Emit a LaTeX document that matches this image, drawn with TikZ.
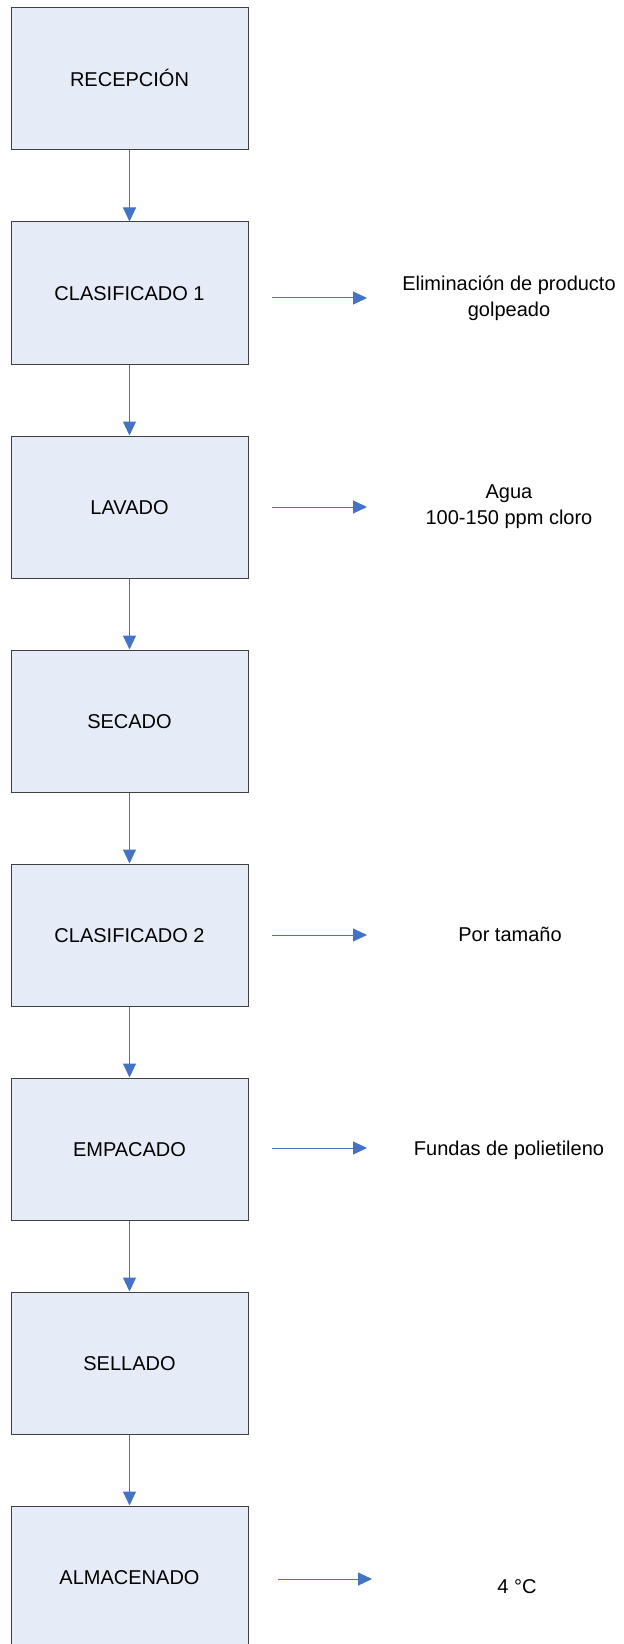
\documentclass[tikz,border=0pt]{standalone}
\usepackage{fontspec}
\setmainfont{Liberation Sans}
\usetikzlibrary{positioning,arrows.meta}
\definecolor{cajafondo}{RGB}{230,236,247}
\definecolor{flechaazul}{RGB}{68,114,196}

\begin{document}
\begin{tikzpicture}[x=0.75pt,y=-0.75pt,
  caja/.style={draw=black!75, fill=cajafondo, line width=0.75pt,
    minimum width=177.75pt, minimum height=106.5pt, inner sep=0pt,
    text height=10.7pt, text depth=0pt, font=\fontsize{15}{18}\selectfont},
  flecha/.style={draw=flechaazul, line width=0.75pt,
    -{Triangle[length=10.5pt,width=9.75pt]}},
  nota/.style={align=center, inner sep=0pt, font=\fontsize{15}{19.5}\selectfont}]
\useasboundingbox (0,0) rectangle (624,1644);

\def\xc{129.5}
\def\xn{509}

\def\ya{79}
\def\yb{293}
\def\yc{507}
\def\yd{721}
\def\ye{935}
\def\yf{1149}
\def\yg{1363}
\def\yh{1577}

\node[caja] (recepcion) at (\xc, \ya) {RECEPCIÓN};
\node[caja] (clasif1) at (\xc, \yb) {CLASIFICADO 1};
\node[caja] (lavado) at (\xc, \yc) {LAVADO};
\node[caja] (secado) at (\xc, \yd) {SECADO};
\node[caja] (clasif2) at (\xc, \ye) {CLASIFICADO 2};
\node[caja] (empacado) at (\xc, \yf) {EMPACADO};
\node[caja] (sellado) at (\xc, \yg) {SELLADO};
\node[caja] (almacen) at (\xc, \yh) {ALMACENADO};

\draw[flecha] (recepcion) -- (clasif1);
\draw[flecha] (clasif1) -- (lavado);
\draw[flecha] (lavado) -- (secado);
\draw[flecha] (secado) -- (clasif2);
\draw[flecha] (clasif2) -- (empacado);
\draw[flecha] (empacado) -- (sellado);
\draw[flecha] (sellado) -- (almacen);

% notas a la derecha
\node[nota] (golpe) at (\xn, 298) {Eliminación de producto\\golpeado};
\node[nota] (agua) at (\xn, 507) {Agua\\100-150 ppm cloro};
\node[nota, anchor=base] (tamano) at (510, 941) {Por tamaño};
\node[nota, anchor=base] (fundas) at (\xn, 1155) {Fundas de polietileno};
\node[nota, anchor=base] (temp) at (517, 1593) {4 °C};

\coordinate (sa) at (272, 298);
\coordinate (ea) at (367, 298);
\coordinate (sb) at (272, 507);
\coordinate (eb) at (367, 507);
\coordinate (sc) at (272, 935);
\coordinate (ec) at (367, 935);
\coordinate (sd) at (272, 1148);
\coordinate (ed) at (367, 1148);
\coordinate (se) at (278, 1579);
\coordinate (ee) at (372, 1579);

\draw[flecha] (sa) -- (ea);
\draw[flecha] (sb) -- (eb);
\draw[flecha] (sc) -- (ec);
\draw[flecha] (sd) -- (ed);
\draw[flecha] (se) -- (ee);

\end{tikzpicture}
\end{document}
